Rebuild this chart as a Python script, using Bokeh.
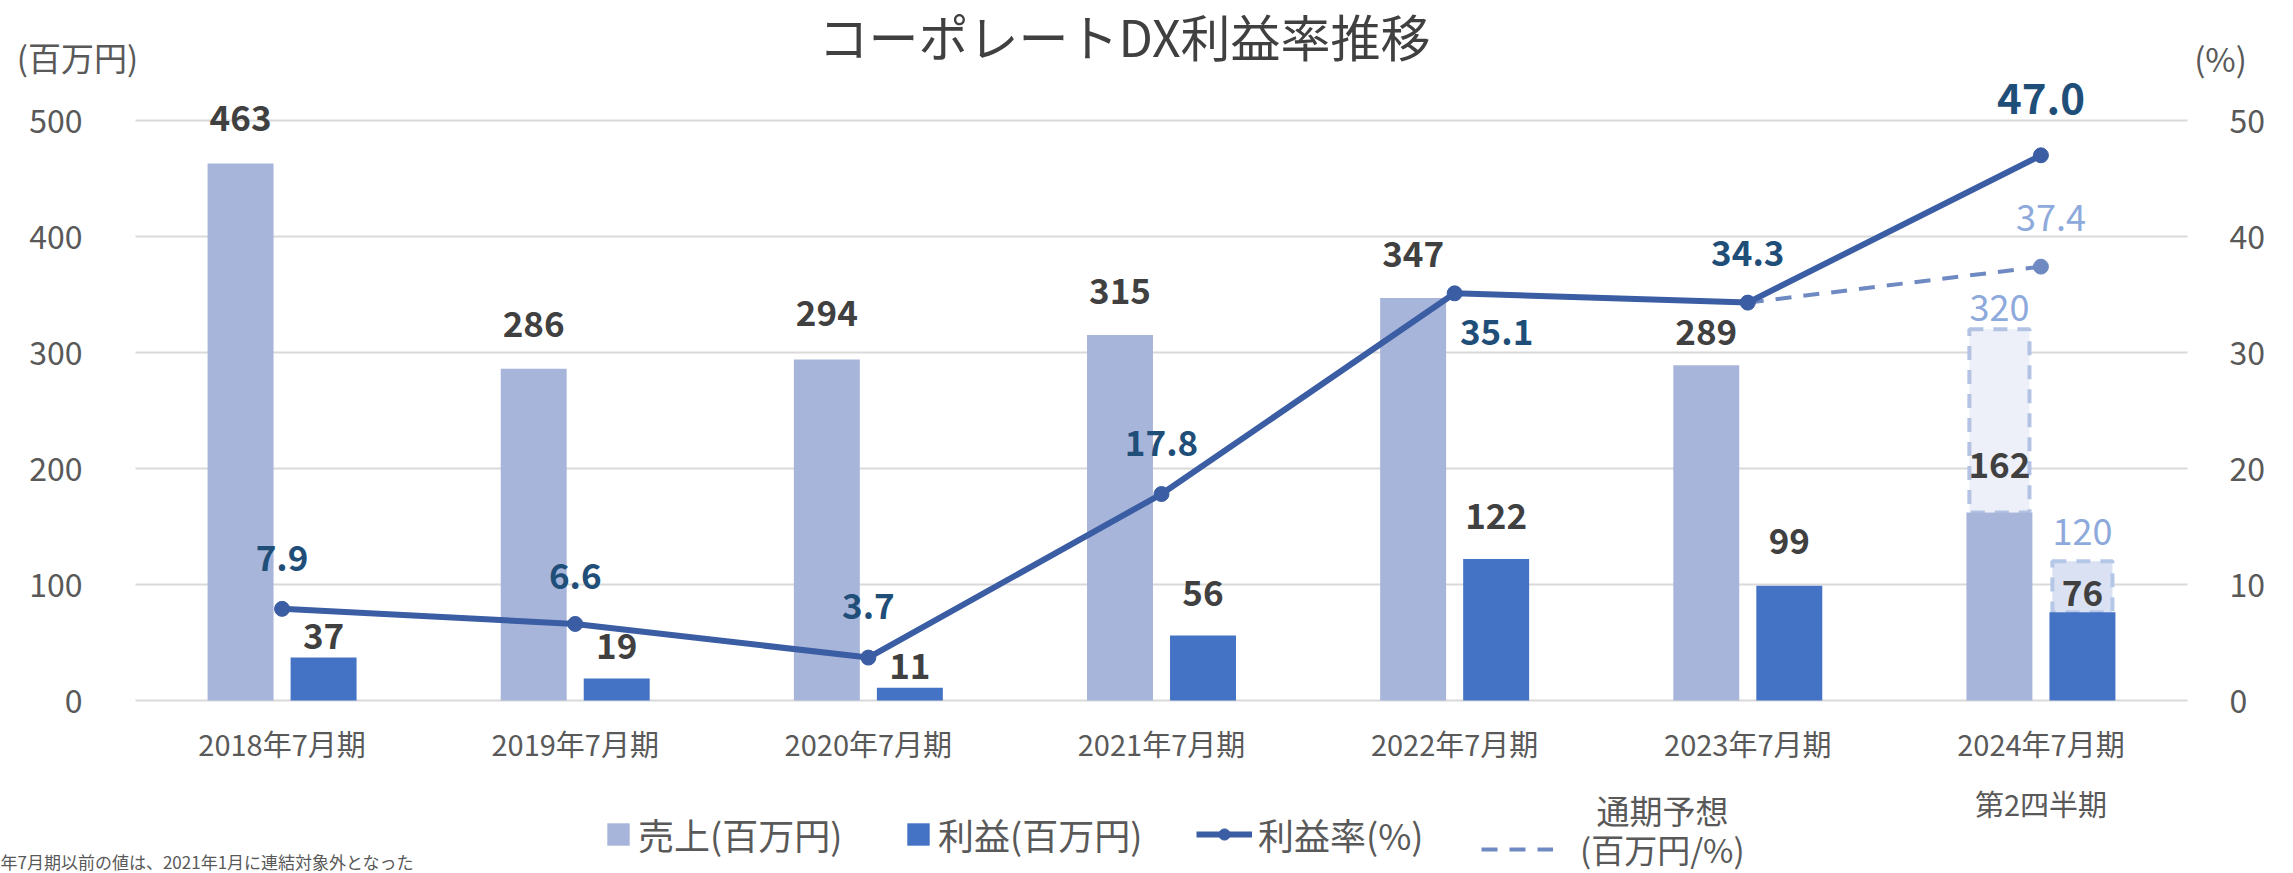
from bokeh.plotting import figure
from bokeh.models import (ColumnDataSource, Range1d, LinearAxis, FixedTicker, Grid,
                          LabelSet, Label, Legend, LegendItem)
from bokeh.transform import dodge
from bokeh.core.properties import value, field
from bokeh.embed import file_html
from bokeh.resources import INLINE

# ---------------- data ----------------
categories = ["2018年7月期", "2019年7月期", "2020年7月期", "2021年7月期",
              "2022年7月期", "2023年7月期", "2024年7月期"]
sales = [463, 286, 294, 315, 347, 289, 162]          # 売上(百万円)
profit = [37, 19, 11, 56, 122, 99, 76]               # 利益(百万円)
margin = [7.9, 6.6, 3.7, 17.8, 35.1, 34.3, 47.0]     # 利益率(%)
forecast_margin = [34.3, 37.4]                       # 通期予想 利益率(%) 2023→2024
sales_forecast = [320]                               # 通期予想 売上
profit_forecast = [120]                              # 通期予想 利益
left_ticks = [0, 100, 200, 300, 400, 500]
right_ticks = [0, 10, 20, 30, 40, 50]
sub_label = "第2四半期"

# ---------------- label placement (style) ----------------
sales_label_dy = [45, 45, 46, 44, 44, 33, 48]
profit_label_dy = [22, 32, 22, 43, 43, 45, 19]
margin_label_dy = [51, 48, 52, 51, -39, 50, 57]
margin_label_dx = [0, 0, 0, 0, 42, 0, 0]
margin_label_size = ["35px"] * 6 + ["42px"]

FONT = "Noto Sans CJK JP"
C_SALES = "#A8B5DA"
C_PROFIT = "#4472C4"
C_LINE = "#3A5DA3"
C_DASH = "#6F8AC2"
C_LINELBL = "#1F4E79"
C_BARLBL = "#404040"
C_FC = "#8EA9DB"
C_AXIS = "#595959"

W, H = 2293, 873
PL, PR, PT, PB = 135, 2187, 120, 700          # chart area in canvas pixels
n = len(categories)
cat_px = (PR - PL) / n
y_px = (PB - PT) / left_ticks[-1]
pct_px = (PB - PT) / right_ticks[-1]

BAR_W = 0.225
OFF = 0.1416

xs = list(range(n))

p = figure(width=W, height=H, output_backend="svg", toolbar_location=None,
           x_range=Range1d(-0.5 - PL / cat_px, n - 0.5 + (W - PR) / cat_px),
           y_range=Range1d(-(H - PB) / y_px, PB / y_px),
           x_axis_location=None, y_axis_location=None,
           min_border=0, outline_line_color=None)
p.extra_y_ranges = {"pct": Range1d(-(H - PB) / pct_px, PB / pct_px)}
p.xgrid.visible = False
p.ygrid.visible = False

src = ColumnDataSource(dict(
    x=xs, sales=sales, profit=profit, margin=margin,
    sales_txt=[str(v) for v in sales], profit_txt=[str(v) for v in profit],
    margin_txt=[f"{v:.1f}" for v in margin],
    sdy=sales_label_dy, pdy=profit_label_dy, mdy=margin_label_dy, mdx=margin_label_dx,
    msize=margin_label_size))

fc_src = ColumnDataSource(dict(
    x=xs[-1:], s_act=sales[-1:], s_fc=sales_forecast,
    p_act=profit[-1:], p_fc=profit_forecast,
    s_txt=[str(v) for v in sales_forecast], p_txt=[str(v) for v in profit_forecast]))

fcl_src = ColumnDataSource(dict(x=xs[-2:], m=forecast_margin))
fcp_src = ColumnDataSource(dict(x=xs[-1:], m=forecast_margin[-1:],
                                txt=[f"{forecast_margin[-1]:.1f}"]))

# axes (fixed inside the frame)
left_ax = LinearAxis(fixed_location=-0.5, ticker=FixedTicker(ticks=left_ticks))
right_ax = LinearAxis(fixed_location=n - 0.5, y_range_name="pct",
                      ticker=FixedTicker(ticks=right_ticks))
bottom_ax = LinearAxis(fixed_location=0, ticker=FixedTicker(ticks=xs),
                       major_label_overrides={i: c for i, c in zip(xs, categories)})
for ax, size, stand in ((left_ax, "32px", 47), (right_ax, "32px", 36), (bottom_ax, "29px", 15)):
    ax.axis_line_color = None
    ax.major_tick_line_color = None
    ax.minor_tick_line_color = None
    ax.major_label_text_color = C_AXIS
    ax.major_label_text_font = FONT
    ax.major_label_text_font_size = size
    ax.major_label_standoff = stand
p.add_layout(left_ax, "left")
p.add_layout(right_ax, "right")
p.add_layout(bottom_ax, "below")

grid = Grid(dimension=1, ticker=FixedTicker(ticks=left_ticks), grid_line_color="#D9D9D9",
            grid_line_width=2, cross_bounds=(-0.5, n - 0.5))
p.add_layout(grid)

# forecast boxes (behind bars)
p.vbar(x=dodge("x", -OFF), bottom="s_act", top="s_fc", width=0.205,
       source=fc_src, fill_color="#EDF0F8", line_color="#B4C2E4", line_width=4,
       line_dash="14 10")
p.vbar(x=dodge("x", OFF), bottom="p_act", top="p_fc", width=0.205,
       source=fc_src, fill_color="#D9E1F2", line_color="#B4C7E7", line_width=4,
       line_dash="14 10")

r_sales = p.vbar(x=dodge("x", -OFF), top="sales", width=BAR_W,
                 source=src, fill_color=C_SALES, line_color=None)
r_profit = p.vbar(x=dodge("x", OFF), top="profit", width=BAR_W,
                  source=src, fill_color=C_PROFIT, line_color=None)

r_dash = p.line(x="x", y="m", source=fcl_src, y_range_name="pct", line_color=C_DASH,
                line_width=4, line_dash="16 12")
p.scatter(x="x", y="m", source=fcp_src, y_range_name="pct", size=15,
          fill_color=C_DASH, line_color=C_DASH)

r_line = p.line(x="x", y="margin", source=src, y_range_name="pct", line_color=C_LINE,
                line_width=6)
r_dot = p.scatter(x="x", y="margin", source=src, y_range_name="pct", size=15,
                  fill_color=C_LINE, line_color=C_LINE)

# data labels
def labelset(**kw):
    base = dict(text_align="center", text_baseline="middle", text_font=value(FONT))
    base.update(kw)
    p.add_layout(LabelSet(**base))

labelset(x=dodge("x", -OFF), y="sales", text="sales_txt", y_offset="sdy", source=src,
         text_font_style="bold", text_font_size="35px", text_color=C_BARLBL)
labelset(x=dodge("x", OFF), y="profit", text="profit_txt", y_offset="pdy", source=src,
         text_font_style="bold", text_font_size="35px", text_color=C_BARLBL)
labelset(x="x", y="margin", y_range_name="pct", text="margin_txt", x_offset="mdx",
         y_offset="mdy", source=src, text_font_style="bold",
         text_font_size=field("msize"), text_color=C_LINELBL)
labelset(x=dodge("x", -OFF), y="s_fc", text="s_txt", y_offset=21, source=fc_src,
         text_font_size="36px", text_color=C_FC)
labelset(x=dodge("x", OFF), y="p_fc", text="p_txt", y_offset=29, source=fc_src,
         text_font_size="36px", text_color=C_FC)
labelset(x="x", y="m", y_range_name="pct", text="txt", x_offset=10, y_offset=49,
         source=fcp_src, text_font_size="36px", text_color=C_FC)

sub_src = ColumnDataSource(dict(x=xs[-1:], y=[0], txt=[sub_label]))
labelset(x="x", y="y", text="txt", y_offset=-102, source=sub_src,
         text_font_size="29px", text_color=C_AXIS)

# title, unit labels, footnote (canvas pixel positions, y measured from the top)
def add_label(text, cx, cy, size, color, align="center"):
    p.add_layout(Label(x=cx, y=H - cy, x_units="screen", y_units="screen", text=text,
                       text_align=align, text_baseline="middle", text_font=FONT,
                       text_font_size=size, text_color=color))

add_label("コーポレートDX利益率推移", 1124, 34, "50px", "#404040")
add_label("(百万円)", 77, 56, "33px", C_AXIS)
add_label("(%)", 2220, 57, "33px", C_AXIS)
add_label("年7月期以前の値は、2021年1月に連結対象外となった", 0, 861, "17px", C_AXIS,
          align="left")
add_label("通期予想", 1662, 809, "33px", C_AXIS)

# legends
def add_legend(label, renderers, cx, cy_bottom, gw, gh, standoff, size="36px"):
    lg = Legend(items=[LegendItem(label=label, renderers=renderers)],
                location=(cx, H - cy_bottom),
                orientation="horizontal", glyph_width=gw, glyph_height=gh,
                label_standoff=standoff, label_text_font=FONT,
                label_text_font_size=size, label_text_color=C_AXIS,
                border_line_color=None, background_fill_alpha=0, padding=0,
                margin=0, spacing=0, label_text_baseline="middle")
    p.add_layout(lg, "center")

add_legend("売上(百万円)", [r_sales], 604, 860, 28, 28, 6)
add_legend("利益(百万円)", [r_profit], 904, 860, 28, 28, 6)
add_legend("利益率(%)", [r_line, r_dot], 1196, 860, 56, 28, 6)
add_legend("(百万円/%)", [r_dash], 1481, 873, 72, 28, 27, "33px")

open("out.html", "w").write(file_html(p, INLINE))
